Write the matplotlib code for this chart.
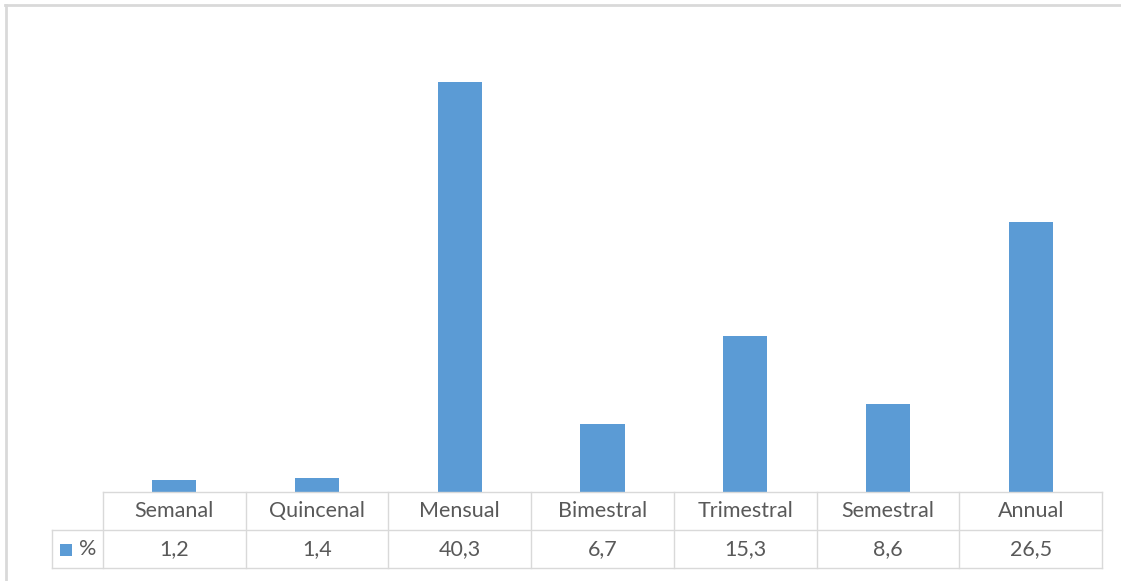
import matplotlib.pyplot as plt
from matplotlib.lines import Line2D
from matplotlib.patches import Rectangle

categories = ["Semanal", "Quincenal", "Mensual", "Bimestral", "Trimestral", "Semestral", "Annual"]
values = [1.2, 1.4, 40.3, 6.7, 15.3, 8.6, 26.5]
value_labels = ["1,2", "1,4", "40,3", "6,7", "15,3", "8,6", "26,5"]
series_name = "%"

W, H = 1121, 581
BLUE = "#5B9BD5"
GRID = "#D9D9D9"
TEXT = "#595959"
FONT = ["Lato", "DejaVu Sans"]
FS = 15.5


def px(x, y):
    # pixel (from top-left) -> figure fraction
    return x / W, 1 - y / H


def hline(fig, y, x0, x1, color=GRID, lw=1.0):
    (a, b), (c, d) = px(x0, y), px(x1, y)
    fig.add_artist(Line2D([a, c], [b, d], color=color, lw=lw, transform=fig.transFigure))


def vline(fig, x, y0, y1, color=GRID, lw=1.0):
    (a, b), (c, d) = px(x, y0), px(x, y1)
    fig.add_artist(Line2D([a, c], [b, d], color=color, lw=lw, transform=fig.transFigure))


fig = plt.figure(figsize=(W / 100, H / 100), dpi=100)
fig.patch.set_facecolor("white")

# plot area
left, right, base, top = 103, 1102, 492, 34
ax = fig.add_axes([left / W, 1 - base / H, (right - left) / W, (base - top) / H])
n = len(categories)
ax.bar(range(n), values, width=0.31, color=BLUE)
ax.set_xlim(-0.5, n - 0.5)
ax.set_ylim(0, 45)
ax.set_axis_off()

# outer chart frame (only top and left visible)
hline(fig, 5, 5, W, color="#D9D9D9", lw=2.0)
vline(fig, 6, 5, H, color="#D9D9D9", lw=2.0)

# data table
r0, r1, r2 = 492, 530, 568
key_left = 52
col_w = (right - left) / n
hline(fig, r0, left, right)
hline(fig, r1, key_left, right)
hline(fig, r2, key_left, right)
vline(fig, key_left, r1, r2)
for i in range(n + 1):
    vline(fig, left + i * col_w, r0, r2)

for i, (cat, lab) in enumerate(zip(categories, value_labels)):
    cx = left + (i + 0.5) * col_w
    x, y = px(cx, (r0 + r1) / 2)
    fig.text(x, y, cat, ha="center", va="center", fontsize=FS, color=TEXT, family=FONT)
    x, y = px(cx, (r1 + r2) / 2)
    fig.text(x, y, lab, ha="center", va="center", fontsize=FS, color=TEXT, family=FONT)

# legend key in the table
kx, ky = px(60, 556)
fig.add_artist(Rectangle((kx, ky), 12 / W, 12 / H, facecolor=BLUE, edgecolor="none",
                         transform=fig.transFigure))
x, y = px(79, (r1 + r2) / 2)
fig.text(x, y, series_name, ha="left", va="center", fontsize=FS, color=TEXT, family=FONT)

fig.savefig("out.png", dpi=100, facecolor=fig.get_facecolor())
